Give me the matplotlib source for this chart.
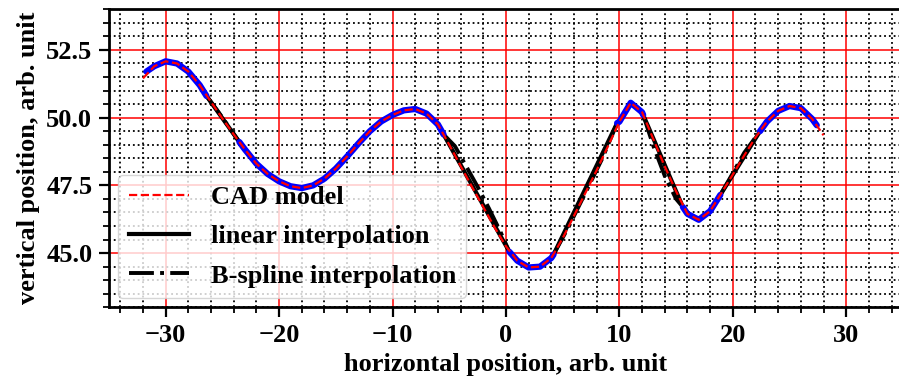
import numpy as np
import matplotlib
matplotlib.use('Agg')
import matplotlib.pyplot as plt
from matplotlib.ticker import MultipleLocator

# --- profile data ---
# CAD model, sampled every 1 unit
cad_x = [-32, -31, -30, -29, -28, -27, -26, -25, -24, -23, -22, -21, -20, -19, -18,
         -17, -16, -15, -14, -13, -12, -11, -10, -9, -8, -7, -6, -5, -4, -3, -2,
         -1, 0, 1, 2, 3, 4, 5, 6, 7, 8, 9, 10, 11, 12, 13, 14, 15, 16, 17, 18,
         19, 20, 21, 22, 23, 24, 25, 26, 27, 28]
cad_y = [51.45, 51.90, 52.08, 52.00, 51.70, 51.20, 50.58, 49.97, 49.38, 48.82, 48.30,
         47.92, 47.65, 47.47, 47.40, 47.50, 47.75, 48.12, 48.57, 49.05, 49.50, 49.86,
         50.10, 50.27, 50.32, 50.15, 49.75, 49.00, 48.22, 47.45, 46.70, 45.95, 45.25,
         44.72, 44.47, 44.50, 44.82, 45.55, 46.38, 47.22, 48.06, 48.95, 49.85, 50.55,
         50.20, 49.20, 48.20, 47.28, 46.45, 46.23, 46.55, 47.22, 47.90, 48.60, 49.27,
         49.85, 50.25, 50.43, 50.35, 49.95, 49.35]

# measured segments (blue), gaps between them are interpolated
meas_x = [[-31.7, -31, -30, -29, -28, -27, -26.4],
          [-23.5, -23, -22, -21, -20, -19, -18, -17, -16, -15, -14, -13, -12, -11,
           -10, -9, -8, -7, -6, -5.5],
          [0.3, 1, 2, 3, 4, 4.2],
          [9.8, 10, 11, 12, 12.1],
          [15.6, 16, 17, 18, 18.9],
          [22.4, 23, 24, 25, 26, 27, 27.4]]
meas_y = [[51.70, 51.90, 52.08, 52.00, 51.70, 51.20, 50.80],
          [49.10, 48.82, 48.30, 47.92, 47.65, 47.47, 47.40, 47.50, 47.75, 48.12,
           48.57, 49.05, 49.50, 49.86, 50.10, 50.27, 50.32, 50.15, 49.75, 49.38],
          [45.05, 44.72, 44.47, 44.50, 44.82, 44.95],
          [49.80, 49.85, 50.55, 50.20, 50.10],
          [46.70, 46.45, 46.23, 46.55, 47.15],
          [49.50, 49.85, 50.25, 50.43, 50.35, 49.95, 49.72]]

# linear interpolation across the gaps
lin_x = [-26.4, -23.5, np.nan, -5.5, 0.3, np.nan, 4.2, 9.8, np.nan,
         12.1, 15.6, np.nan, 18.9, 22.4]
lin_y = [50.80, 49.10, np.nan, 49.38, 45.05, np.nan, 44.95, 49.80, np.nan,
         50.10, 46.70, np.nan, 47.15, 49.50]

# B-spline interpolation across the gaps
bsp_x = [-26.4, -25.5, -24.5, -23.5, np.nan,
         -5.5, -4.5, -3.5, -2.5, -1.5, -0.5, 0.3, np.nan,
         4.2, 5.5, 7.0, 8.5, 9.8, np.nan,
         12.1, 13.0, 14.0, 15.0, 15.6, np.nan,
         18.9, 20.0, 21.0, 22.4]
bsp_y = [50.80, 50.30, 49.70, 49.10, np.nan,
         49.38, 48.95, 48.20, 47.45, 46.65, 45.80, 45.05, np.nan,
         44.95, 45.95, 47.22, 48.50, 49.80, np.nan,
         50.10, 48.95, 47.85, 47.00, 46.70, np.nan,
         47.15, 47.95, 48.70, 49.50]

plt.rcParams['font.family'] = 'Liberation Serif'
plt.rcParams['font.weight'] = 'bold'
plt.rcParams['font.size'] = 19

fig = plt.figure(figsize=(8.99, 3.86), dpi=100)
ax = fig.add_axes([0.1212, 0.2039, 0.8832, 0.772])

ax.plot(lin_x, lin_y, color='k', linestyle='-', linewidth=3, zorder=2,
        label='linear interpolation')
ax.plot(bsp_x, bsp_y, color='k', linestyle='-.', linewidth=2.8, zorder=2,
        label='B-spline interpolation')
for mx, my in zip(meas_x, meas_y):
    ax.plot(mx, my, color='#0000ff', linewidth=4.5, solid_capstyle='round', zorder=3)
ax.plot(cad_x, cad_y, color='red', linestyle='--', linewidth=1.6, zorder=4,
        label='CAD model')

ax.set_xlim(-35, 35)
ax.set_ylim(43, 54)
ax.xaxis.set_major_locator(MultipleLocator(10))
ax.xaxis.set_minor_locator(MultipleLocator(2))
ax.yaxis.set_major_locator(MultipleLocator(2.5))
ax.yaxis.set_minor_locator(MultipleLocator(0.5))

ax.grid(which='major', color='red', linestyle='-', linewidth=1.1)
ax.grid(which='minor', color='k', linestyle=':', linewidth=1.3)
ax.set_axisbelow(True)

for s in ax.spines.values():
    s.set_linewidth(2)
ax.tick_params(which='major', length=7, width=1.6, pad=5)
ax.tick_params(which='minor', length=4, width=1.3)

ax.set_xlabel('horizontal position, arb. unit', fontweight='bold', labelpad=4)
ax.set_ylabel('vertical position, arb. unit', fontweight='bold', labelpad=4)

handles, labels = ax.get_legend_handles_labels()
order = [2, 0, 1]
leg = ax.legend([handles[i] for i in order], [labels[i] for i in order],
                loc='lower left', handlelength=2.3, borderaxespad=0.35,
                labelspacing=0.6)
leg.set_zorder(1)  # keep the curves on top of the legend box

fig.savefig('out.png', dpi=100)
